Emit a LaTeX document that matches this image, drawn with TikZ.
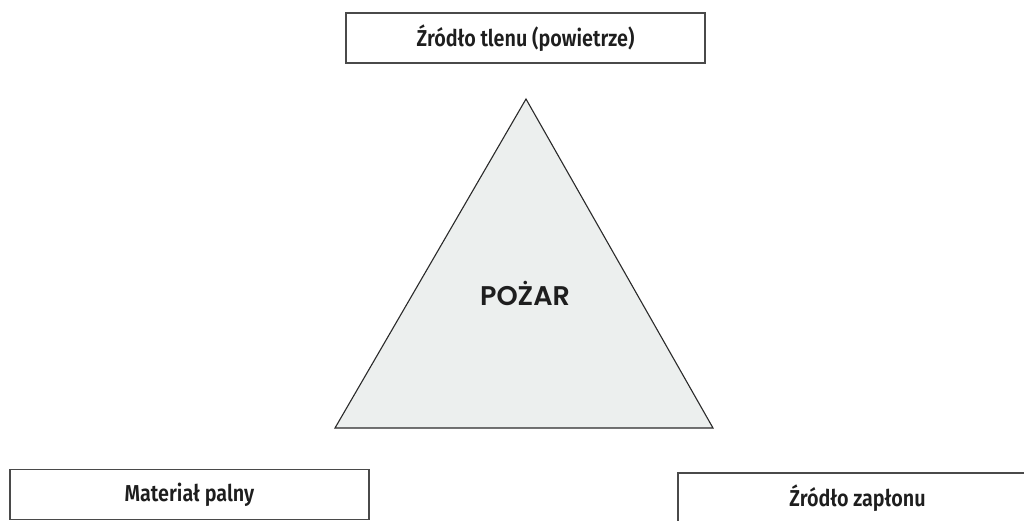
\documentclass[tikz,border=0pt]{standalone}
\usepackage{fontspec}
\setmainfont{Fira Sans}
\newfontfamily\boxfont{Fira Sans SemiBold}
\newfontfamily\firefont{Poppins SemiBold}
\definecolor{boxgray}{HTML}{4A4A4A}
\definecolor{trifill}{HTML}{ECEFEE}
\definecolor{triline}{HTML}{2A2A2A}
\definecolor{txt}{HTML}{1E1E1E}
\newcommand{\condtext}[1]{\scalebox{0.86}[1]{#1}}
\begin{document}
\begin{tikzpicture}[x=1pt,y=-1pt,
  labelbox/.style={draw=boxgray, line width=1.1pt, minimum width=359pt, minimum height=50pt, inner sep=0pt, fill=white, text=txt, font=\boxfont\fontsize{23}{25}\selectfont},
  firetri/.style={draw=triline, line width=1.1pt, fill=trifill, line join=miter},
  firelabel/.style={text=txt, inner sep=0pt, font=\firefont\fontsize{27}{30}\selectfont}]
\useasboundingbox (0,0) rectangle (1024,520);
\fill[white] (0,0) rectangle (1024,520);
\coordinate (apex) at (526,99);
\coordinate (bl) at (335,428);
\coordinate (br) at (713,428);
\draw[firetri] (apex) -- (br) -- (bl) -- cycle;
\node[firelabel] (fire) at (525,293) {POŻAR};
\node[labelbox] (oxygen) at (525.5,38) {\condtext{Źródło tlenu (powietrze)}};
\node[labelbox] (fuel) at (189.5,494.5) {\condtext{Materiał palny}};
\node[labelbox] (ignition) at (857.5,498) {\condtext{Źródło zapłonu}};
\end{tikzpicture}
\end{document}
